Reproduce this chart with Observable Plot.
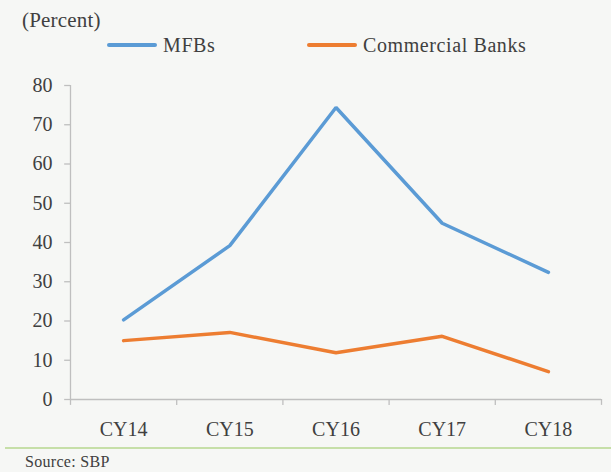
<!DOCTYPE html>
<html>
<head>
<meta charset="utf-8">
<script src="https://cdn.jsdelivr.net/npm/d3@7"></script>
<script src="https://cdn.jsdelivr.net/npm/@observablehq/plot@0.6"></script>
<style>
  html, body { margin: 0; padding: 0; background: #f6f7f5; }
  #wrap { position: relative; width: 611px; height: 472px; background: #f6f7f5; overflow: hidden;
          font-family: "Liberation Serif", "Times New Roman", serif; color: #404040; }
  #title { position: absolute; left: 22px; top: 5px; font-size: 21px; line-height: 30px; letter-spacing: 0.2px; }
  #legend { position: absolute; left: 0; top: 30px; width: 611px; height: 30px; font-size: 20px; line-height: 30px; }
  .item { position: absolute; top: 0; height: 30px; display: flex; align-items: center; }
  .sw { display: inline-block; width: 50px; height: 4px; border-radius: 2px; margin-right: 6px; }
  .lab { letter-spacing: 0.6px; }
  #chart { position: absolute; left: 0; top: 60px; }
  #rule { position: absolute; left: 5px; right: 0; top: 447px; height: 2px; background: #c6dfa8; }
  #source { position: absolute; left: 25px; top: 452px; font-size: 16px; line-height: 20px; letter-spacing: 0.3px; }
</style>
</head>
<body>
<div id="wrap">
  <div id="title">(Percent)</div>
  <div id="legend"></div>
  <div id="chart"></div>
  <div id="rule"></div>
  <div id="source">Source: SBP</div>
</div>
<script>
// ---- data ----
const categories = ["CY14", "CY15", "CY16", "CY17", "CY18"];
const mfbs = [20.3, 39.2, 74.4, 44.9, 32.4];
const commercialBanks = [15.0, 17.1, 11.9, 16.1, 7.1];
const seriesNames = ["MFBs", "Commercial Banks"];
const seriesColors = ["#5b9bd5", "#ed7d31"];
const yTicks = [0, 10, 20, 30, 40, 50, 60, 70, 80];

// ---- build table ----
const seriesValues = [mfbs, commercialBanks];
const rows = [];
seriesNames.forEach((name, s) => {
  categories.forEach((c, i) => rows.push({series: name, i, value: seriesValues[s][i]}));
});
const xDomain = [-0.5, categories.length - 0.5];
const boundaries = categories.map((_, i) => i - 0.5).concat([categories.length - 0.5]);

// ---- legend ----
const legend = document.getElementById("legend");
const legendLeft = [107, 307];
seriesNames.forEach((name, s) => {
  const item = document.createElement("div");
  item.className = "item";
  item.style.left = legendLeft[s] + "px";
  const sw = document.createElement("span");
  sw.className = "sw";
  sw.style.background = seriesColors[s];
  const label = document.createElement("span");
  label.className = "lab";
  label.textContent = name;
  item.appendChild(sw);
  item.appendChild(label);
  legend.appendChild(item);
});

// ---- chart ----
const axisGray = "#bfbfbf";
const chart = Plot.plot({
  width: 611,
  height: 380,
  marginTop: 25,
  marginBottom: 41,
  marginLeft: 70,
  marginRight: 10,
  style: {fontFamily: "Liberation Serif, Times New Roman, serif", fontSize: "20px", color: "#404040", background: "transparent"},
  x: {domain: xDomain, ticks: categories.map((_, i) => i), tickFormat: i => categories[i], tickSize: 0, tickPadding: 22, label: null},
  y: {domain: [0, 80], ticks: yTicks, tickSize: 0, tickPadding: 18, label: null},
  color: {domain: seriesNames, range: seriesColors},
  marks: [
    // y axis line and ticks
    Plot.ruleX([xDomain[0]], {x: d => d, y1: 0, y2: 80, stroke: axisGray, strokeWidth: 1.3}),
    Plot.ruleY(yTicks, {y: d => d, x1: xDomain[0] - 0.055, x2: xDomain[0], stroke: axisGray, strokeWidth: 1.3}),
    // x axis line and ticks
    Plot.ruleY([0], {y: d => d, x1: xDomain[0], x2: xDomain[1], stroke: axisGray, strokeWidth: 1.3}),
    Plot.ruleX(boundaries, {x: d => d, y1: 0, y2: -1.5, stroke: axisGray, strokeWidth: 1.3}),
    // series
    Plot.line(rows, {x: "i", y: "value", z: "series", stroke: "series", strokeWidth: 3.5, strokeLinejoin: "miter", strokeLinecap: "round"})
  ]
});
document.getElementById("chart").appendChild(chart);
</script>
</body>
</html>
